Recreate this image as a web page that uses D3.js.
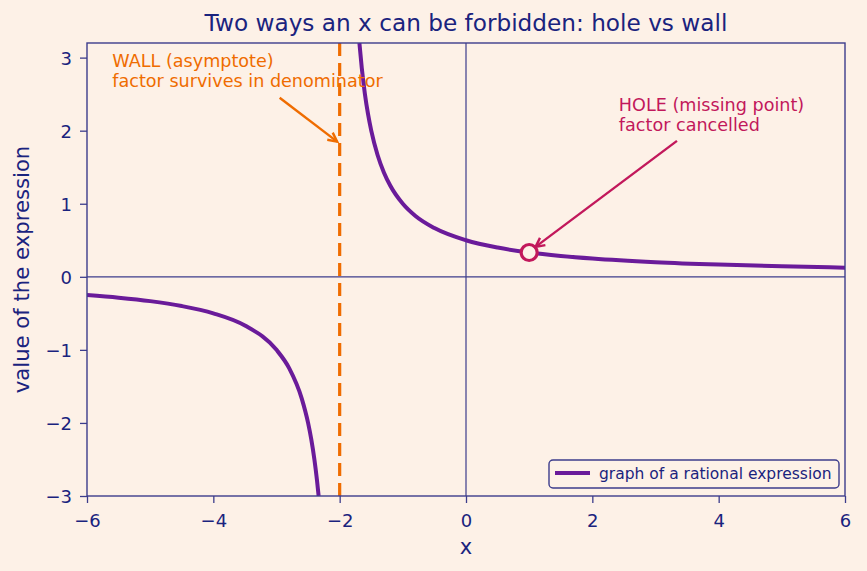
<!DOCTYPE html>
<html>
<head>
<meta charset="utf-8">
<script src="https://cdn.jsdelivr.net/npm/d3@7"></script>
<style>
  body { margin: 0; background: #fdf1e7; }
  svg { display: block; font-family: "DejaVu Sans", sans-serif; }
</style>
</head>
<body>
<svg width="867" height="571"></svg>
<script>
// points, left branch (x < -2) and right branch (x > -2)
var leftX = [-6, -5.5, -5, -4.5, -4, -3.5, -3, -2.8, -2.6, -2.5, -2.45, -2.4, -2.36, -2.333];
var leftY = [-0.25, -0.286, -0.333, -0.4, -0.5, -0.667, -1, -1.25, -1.667, -2, -2.222, -2.5, -2.778, -3];
var rightX = [-1.6875, -1.65, -1.6, -1.55, -1.5, -1.4, -1.3, -1.2, -1, -0.8, -0.5, 0, 0.5, 1, 1.5, 2, 3, 4, 5, 6];
var rightY = [3.2, 2.857, 2.5, 2.222, 2, 1.667, 1.429, 1.25, 1, 0.833, 0.667, 0.5, 0.4, 0.333, 0.286, 0.25, 0.2, 0.167, 0.143, 0.125];
var hole = { x: 1, y: 0.333 };
var wallX = -2;
var xTicks = [-6, -4, -2, 0, 2, 4, 6];
var yTicks = [-3, -2, -1, 0, 1, 2, 3];

var svg = d3.select("svg"),
  margin = { left: 87, right: 22, top: 43, bottom: 75 },
  width = +svg.attr("width"),
  height = +svg.attr("height");

var ink = "#1a237e", spine = "#3c3c8c";
var purple = "#6a1b9a", orange = "#ef6c00", crimson = "#c2185b";

var x = d3.scaleLinear().domain([-6, 6]).range([margin.left, width - margin.right]);
var y = d3.scaleLinear().domain([-3, 3.2]).range([height - margin.bottom, margin.top]);

svg.append("rect").attr("width", width).attr("height", height).attr("fill", "#fdf1e7");

var defs = svg.append("defs");
defs.append("clipPath").attr("id", "clip")
  .append("rect")
  .attr("x", x(-6)).attr("y", y(3.2))
  .attr("width", x(6) - x(-6)).attr("height", y(-3) - y(3.2));

function marker(id, col) {
  defs.append("marker")
    .attr("id", id)
    .attr("viewBox", "0 0 12 12")
    .attr("refX", 10).attr("refY", 6)
    .attr("markerWidth", 12).attr("markerHeight", 12)
    .attr("markerUnits", "userSpaceOnUse")
    .attr("orient", "auto")
    .append("path")
    .attr("d", "M1,1.5 L10,6 L1,10.5")
    .attr("fill", "none")
    .attr("stroke", col)
    .attr("stroke-width", 2.4);
}
marker("arrOrange", orange);
marker("arrCrimson", crimson);

var plot = svg.append("g").attr("clip-path", "url(#clip)");

// zero lines
plot.append("line")
  .attr("x1", x(-6)).attr("x2", x(6)).attr("y1", y(0)).attr("y2", y(0))
  .attr("stroke", spine).attr("stroke-width", 1.2);
plot.append("line")
  .attr("x1", x(0)).attr("x2", x(0)).attr("y1", y(-3)).attr("y2", y(3.2))
  .attr("stroke", spine).attr("stroke-width", 1.2);

// asymptote
plot.append("line")
  .attr("x1", x(wallX)).attr("x2", x(wallX)).attr("y1", y(3.2)).attr("y2", y(-3))
  .attr("stroke", orange).attr("stroke-width", 3.2)
  .attr("stroke-dasharray", "13,7");

var line = d3.line()
  .x(function(d) { return x(d[0]); })
  .y(function(d) { return y(d[1]); })
  .curve(d3.curveMonotoneX);

[d3.zip(leftX, leftY), d3.zip(rightX, rightY)].forEach(function(pts) {
  plot.append("path")
    .datum(pts)
    .attr("d", line)
    .attr("fill", "none")
    .attr("stroke", purple)
    .attr("stroke-width", 4);
});

// hole
plot.append("circle")
  .attr("cx", x(hole.x)).attr("cy", y(hole.y)).attr("r", 8)
  .attr("fill", "#fdf1e7").attr("stroke", crimson).attr("stroke-width", 3.2);

// axes
var fmt = function(d) { return d < 0 ? "\u2212" + Math.abs(d) : d; };
var gx = svg.append("g")
  .attr("transform", "translate(0," + y(-3) + ")")
  .call(d3.axisBottom(x).tickValues(xTicks).tickSize(7).tickPadding(11).tickFormat(fmt));
var gy = svg.append("g")
  .attr("transform", "translate(" + x(-6) + ",0)")
  .call(d3.axisLeft(y).tickValues(yTicks).tickSize(7).tickPadding(8).tickFormat(fmt));
[gx, gy].forEach(function(g) {
  g.select(".domain").remove();
  g.selectAll("line").attr("stroke", spine).attr("stroke-width", 1.3);
  g.selectAll("text").attr("fill", ink).style("font-size", "18px").style("font-family", "DejaVu Sans");
});
gx.selectAll("text").attr("dy", "0.71em");
gy.selectAll("text").attr("dy", "0.36em");

// frame
svg.append("rect")
  .attr("x", x(-6)).attr("y", y(3.2))
  .attr("width", x(6) - x(-6)).attr("height", y(-3) - y(3.2))
  .attr("fill", "none").attr("stroke", spine).attr("stroke-width", 1.4);

// annotations
var wall = svg.append("text")
  .attr("fill", orange).style("font-size", "17.6px");
wall.append("tspan").attr("x", x(-5.6)).attr("y", 67).text("WALL (asymptote)");
wall.append("tspan").attr("x", x(-5.6)).attr("y", 87).text("factor survives in denominator");
svg.append("line")
  .attr("x1", x(-2.95)).attr("y1", y(2.45))
  .attr("x2", x(-2.04)).attr("y2", y(1.85))
  .attr("stroke", orange).attr("stroke-width", 2.4)
  .attr("marker-end", "url(#arrOrange)");

var holeTxt = svg.append("text")
  .attr("fill", crimson).style("font-size", "17.6px");
holeTxt.append("tspan").attr("x", x(2.42)).attr("y", 111).text("HOLE (missing point)");
holeTxt.append("tspan").attr("x", x(2.42)).attr("y", 131).text("factor cancelled");
svg.append("line")
  .attr("x1", x(3.34)).attr("y1", y(1.86))
  .attr("x2", x(1.1)).attr("y2", y(0.41))
  .attr("stroke", crimson).attr("stroke-width", 2.4)
  .attr("marker-end", "url(#arrCrimson)");

// title and labels
svg.append("text")
  .attr("x", (x(-6) + x(6)) / 2).attr("y", 31)
  .attr("text-anchor", "middle").attr("fill", ink)
  .style("font-size", "23.2px")
  .text("Two ways an x can be forbidden: hole vs wall");
svg.append("text")
  .attr("x", (x(-6) + x(6)) / 2).attr("y", 554)
  .attr("text-anchor", "middle").attr("fill", ink)
  .style("font-size", "21px").text("x");
svg.append("text")
  .attr("transform", "translate(29," + ((y(-3) + y(3.2)) / 2) + ") rotate(-90)")
  .attr("text-anchor", "middle").attr("fill", ink)
  .style("font-size", "21.2px").text("value of the expression");

// legend
var lg = svg.append("g").attr("transform", "translate(549,460)");
lg.append("rect")
  .attr("width", 290).attr("height", 28).attr("rx", 4)
  .attr("fill", "#fdf1e7").attr("stroke", spine).attr("stroke-width", 1.4);
lg.append("line")
  .attr("x1", 6).attr("x2", 41).attr("y1", 13).attr("y2", 13)
  .attr("stroke", purple).attr("stroke-width", 4);
lg.append("text")
  .attr("x", 50).attr("y", 19).attr("fill", ink)
  .style("font-size", "15.5px").text("graph of a rational expression");
</script>
</body>
</html>
